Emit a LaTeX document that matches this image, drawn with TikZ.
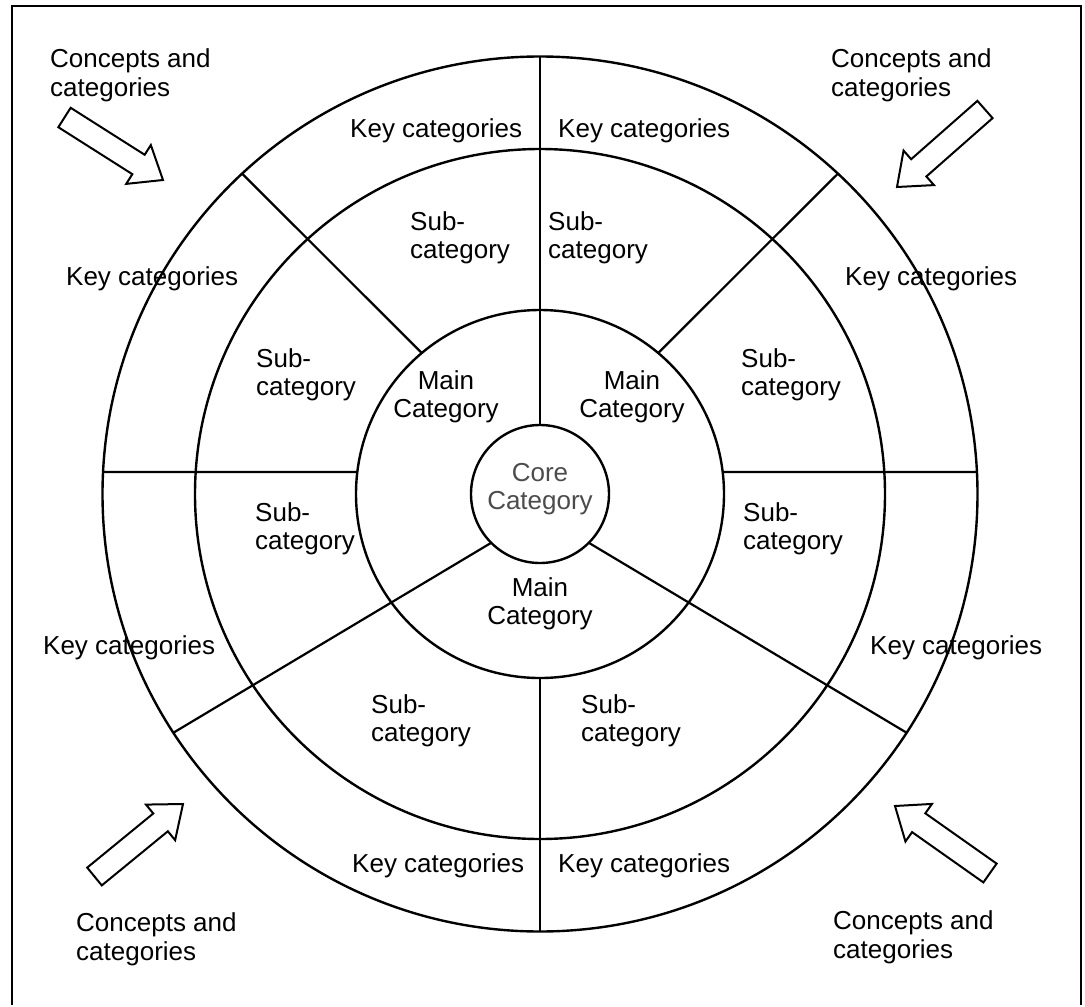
\documentclass[tikz,border=0pt]{standalone}
\usepackage{fontspec}
\setmainfont{Liberation Sans}
\usetikzlibrary{calc}
% hollow block arrow from tail centre #1 to tip #2
\newcommand\hollowarrow[2]{%
  \coordinate (hb) at ($(#2)!29pt!(#1)$);
  \draw[arrowline] ($(#1)!11.5pt!90:(#2)$) -- ($(hb)!11.5pt!90:(#2)$)
    -- ($(hb)!23pt!90:(#2)$) -- (#2) -- ($(hb)!23pt!-90:(#2)$)
    -- ($(hb)!11.5pt!-90:(#2)$) -- ($(#1)!11.5pt!-90:(#2)$) -- cycle;}
\begin{document}
\begin{tikzpicture}[x=1pt,y=1pt,
  ring/.style={draw, circle, line width=2.4pt, inner sep=0pt, outer sep=0pt},
  divider/.style={line width=2.2pt},
  lbl/.style={inner sep=0pt, font=\fontsize{26}{28}\selectfont},
  leftlabel/.style={lbl, align=left, anchor=north west},
  midlabel/.style={lbl, align=center, anchor=north},
  keylabel/.style={lbl, anchor=base west},
  cornerlabel/.style={leftlabel, font=\fontsize{26}{29}\selectfont},
  arrowline/.style={draw, fill=white, line width=2pt, line join=miter},
  frameline/.style={line width=2pt}]
\useasboundingbox (0,0) rectangle (1085,-1007);

% frame
\coordinate (fbl) at (11.5,-1005);
\coordinate (ftl) at (11.5,-6);
\coordinate (ftr) at (1081,-6);
\coordinate (fbr) at (1081,-1005);
\draw[frameline] (fbl) -- (ftl) -- (ftr) -- (fbr);

% concentric rings
\node[ring, minimum size=875pt] (outer) at (540,-494) {};
\node[ring, minimum size=690pt] (middle) at (540,-494) {};
\node[ring, minimum size=368pt] (main) at (540,-494) {};
\node[ring, minimum size=138pt] (core) at (540,-494) {};

% end points of the dividing lines on the rings
\coordinate (mW) at ($(main.center)+(173.13:184)$);
\coordinate (oW) at ($(outer.center)+(177.12:437.5)$);
\coordinate (mE) at ($(main.center)+(6.87:184)$);
\coordinate (oE) at ($(outer.center)+(2.88:437.5)$);
\coordinate (mNW) at ($(main.center)+(129.97:184)$);
\coordinate (oNW) at ($(outer.center)+(132.92:437.5)$);
\coordinate (mNE) at ($(main.center)+(50.03:184)$);
\coordinate (oNE) at ($(outer.center)+(47.08:437.5)$);
\coordinate (oSW) at ($(outer.center)+(213.07:437.5)$);
\coordinate (oSE) at ($(outer.center)+(326.93:437.5)$);

% dividing lines
\draw[divider] (core.north) -- (outer.north);
\draw[divider] (main.south) -- (outer.south);
\draw[divider] (mW) -- (oW);
\draw[divider] (mE) -- (oE);
\draw[divider] (mNW) -- (oNW);
\draw[divider] (mNE) -- (oNE);
\draw[divider] (core.225) -- (oSW);
\draw[divider] (core.315) -- (oSE);

% outer ring labels
\node[keylabel] (k1) at (350,-137) {Key categories};
\node[keylabel] (k2) at (558,-137) {Key categories};
\node[keylabel] (k3) at (66,-285) {Key categories};
\node[keylabel] (k4) at (845,-285) {Key categories};
\node[keylabel] (k5) at (43,-654) {Key categories};
\node[keylabel] (k6) at (870,-654) {Key categories};
\node[keylabel] (k7) at (352,-872) {Key categories};
\node[keylabel] (k8) at (558,-872) {Key categories};

% middle ring labels
\node[leftlabel] (s1) at (410,-211) {Sub-\\category};
\node[leftlabel] (s2) at (548,-211) {Sub-\\category};
\node[leftlabel] (s3) at (256,-348) {Sub-\\category};
\node[leftlabel] (s4) at (741,-348) {Sub-\\category};
\node[leftlabel] (s5) at (255,-502) {Sub-\\category};
\node[leftlabel] (s6) at (743,-502) {Sub-\\category};
\node[leftlabel] (s7) at (371,-694) {Sub-\\category};
\node[leftlabel] (s8) at (581,-694) {Sub-\\category};

% inner ring labels
\node[midlabel] (m1) at (446,-370) {Main\\Category};
\node[midlabel] (m2) at (632,-370) {Main\\Category};
\node[midlabel] (m3) at (540,-577) {Main\\Category};

% centre
\node[midlabel, text=black!70] (ctext) at (540,-463) {Core\\Category};

% corner labels
\node[cornerlabel] (c1) at (50,-48) {Concepts and\\categories};
\node[cornerlabel] (c2) at (831,-48) {Concepts and\\categories};
\node[cornerlabel] (c3) at (76,-912) {Concepts and\\categories};
\node[cornerlabel] (c4) at (833,-910) {Concepts and\\categories};

% inward arrows
\coordinate (a1t) at (64.5,-117.5); \coordinate (a1p) at (163,-180);
\coordinate (a2t) at (985,-109.5);  \coordinate (a2p) at (897,-187);
\coordinate (a3t) at (94.5,-876.5); \coordinate (a3p) at (183,-804);
\coordinate (a4t) at (990,-873);    \coordinate (a4p) at (895,-806);
\hollowarrow{a1t}{a1p}
\hollowarrow{a2t}{a2p}
\hollowarrow{a3t}{a3p}
\hollowarrow{a4t}{a4p}
\end{tikzpicture}
\end{document}
